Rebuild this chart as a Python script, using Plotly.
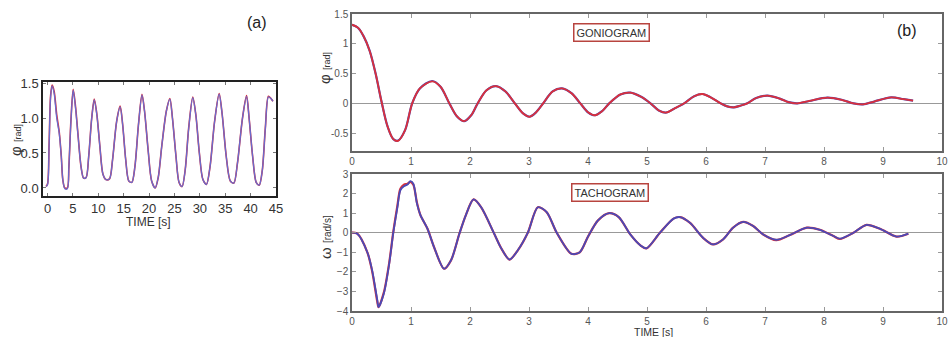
import plotly.graph_objects as go

# ---------------- data ----------------
# panel (a): long recording, angle phi [rad] vs time [s]
a_time = [-0.3, 0.0, 0.3, 0.6, 0.9, 1.3, 1.8, 2.3, 2.7, 3.0, 3.4, 3.9, 4.2, 4.6, 5.05, 5.5, 6.0, 6.6,
          7.1, 7.6, 8.1, 8.7, 9.2, 9.7, 10.3, 10.9, 11.5, 12.2, 12.8, 13.6, 14.3, 14.8, 15.4, 16.0,
          16.6, 17.2, 17.9, 18.6, 19.1, 19.8, 20.5, 21.2, 21.8, 22.5, 23.4, 24.1, 24.6, 25.3, 25.9,
          26.5, 27.1, 27.8, 28.6, 29.2, 29.9, 30.6, 31.3, 32.0, 32.9, 33.8, 34.4, 35.2, 36.0, 36.7,
          37.4, 38.4, 39.2, 39.7, 40.4, 41.1, 41.7, 42.3, 42.9, 43.5, 44.0, 44.4]
a_phi_blue = [0.02, 0.05, 0.6, 1.3, 1.46, 1.35, 1.0, 0.78, 0.45, 0.12, -0.01, -0.01, 0.3, 0.95, 1.40,
              1.15, 0.75, 0.3, 0.14, 0.15, 0.45, 1.0, 1.26, 1.05, 0.6, 0.2, 0.12, 0.13, 0.4, 0.95,
              1.16, 0.9, 0.4, 0.1, 0.08, 0.3, 0.9, 1.33, 1.1, 0.55, 0.1, 0.0, 0.15, 0.6, 1.1, 1.27,
              1.0, 0.45, 0.08, 0.02, 0.25, 0.85, 1.29, 1.05, 0.5, 0.12, 0.05, 0.3, 0.95, 1.34, 1.05,
              0.45, 0.1, 0.07, 0.35, 1.0, 1.31, 1.0, 0.45, 0.08, 0.04, 0.25, 0.85, 1.30, 1.28, 1.24]
a_phi_red = [0.02, 0.06, 0.62, 1.32, 1.47, 1.38, 1.05, 0.80, 0.46, 0.12, 0.0, 0.0, 0.3, 0.96, 1.41,
             1.17, 0.76, 0.3, 0.14, 0.15, 0.45, 1.0, 1.27, 1.06, 0.6, 0.2, 0.12, 0.13, 0.4, 0.95,
             1.17, 0.9, 0.4, 0.1, 0.08, 0.3, 0.9, 1.34, 1.1, 0.55, 0.1, 0.0, 0.15, 0.6, 1.1, 1.28,
             1.0, 0.45, 0.08, 0.02, 0.25, 0.86, 1.30, 1.05, 0.5, 0.12, 0.05, 0.3, 0.95, 1.35, 1.05,
             0.45, 0.1, 0.07, 0.35, 1.0, 1.32, 1.0, 0.45, 0.08, 0.04, 0.25, 0.86, 1.31, 1.28, 1.24]

# panel (b) top: goniogram phi [rad]
g_time = [0.0, 0.1, 0.2, 0.3, 0.4, 0.5, 0.6, 0.7, 0.78, 0.9, 1.02, 1.15, 1.36, 1.5, 1.65, 1.78, 1.9,
          2.02, 2.13, 2.28, 2.44, 2.6, 2.76, 2.9, 3.01, 3.12, 3.24, 3.4, 3.56, 3.72, 3.87, 4.0, 4.12,
          4.24, 4.36, 4.55, 4.72, 4.9, 5.06, 5.2, 5.32, 5.46, 5.63, 5.8, 5.94, 6.08, 6.25, 6.36, 6.47,
          6.58, 6.7, 6.85, 7.04, 7.25, 7.4, 7.55, 7.75, 8.06, 8.3, 8.5, 8.66, 8.85, 9.14, 9.35, 9.51]
g_phi_red = [1.32, 1.27, 1.12, 0.88, 0.5, 0.03, -0.38, -0.6, -0.63, -0.45, 0.0, 0.25, 0.37, 0.28, 0.0,
             -0.22, -0.30, -0.2, 0.0, 0.22, 0.29, 0.2, 0.0, -0.17, -0.225, -0.15, 0.0, 0.2, 0.25, 0.17,
             0.0, -0.15, -0.2, -0.13, 0.0, 0.15, 0.18, 0.11, 0.0, -0.12, -0.157, -0.09, 0.0, 0.12,
             0.157, 0.1, 0.0, -0.05, -0.067, -0.04, 0.0, 0.09, 0.13, 0.08, 0.02, 0.0, 0.04, 0.095,
             0.06, 0.0, -0.017, 0.03, 0.10, 0.07, 0.045]
g_phi_blue = [1.32, 1.27, 1.12, 0.88, 0.5, 0.03, -0.38, -0.6, -0.625, -0.45, 0.0, 0.25, 0.375, 0.28, 0.0,
              -0.22, -0.30, -0.2, 0.0, 0.22, 0.29, 0.2, 0.0, -0.17, -0.225, -0.15, 0.0, 0.2, 0.25, 0.17,
              0.0, -0.15, -0.2, -0.13, 0.0, 0.15, 0.18, 0.11, 0.0, -0.12, -0.157, -0.09, 0.0, 0.12,
              0.157, 0.1, 0.0, -0.05, -0.067, -0.04, 0.0, 0.09, 0.13, 0.08, 0.02, 0.0, 0.04, 0.095,
              0.06, 0.0, -0.017, 0.03, 0.10, 0.07, 0.045]

# panel (b) bottom: tachogram omega [rad/s]
t_time = [0.0, 0.09, 0.26, 0.34, 0.43, 0.45, 0.54, 0.63, 0.70, 0.77, 0.82, 0.88, 0.94, 0.99, 1.04,
          1.10, 1.16, 1.28, 1.39, 1.56, 1.68, 1.82, 1.93, 2.06, 2.19, 2.41, 2.53, 2.67, 2.81, 2.98,
          3.15, 3.30, 3.47, 3.72, 3.86, 4.0, 4.17, 4.36, 4.52, 4.72, 4.89, 4.99, 5.22, 5.45, 5.56,
          5.73, 5.95, 6.12, 6.29, 6.46, 6.63, 6.80, 6.97, 7.19, 7.42, 7.71, 7.93, 8.16, 8.27, 8.50,
          8.72, 8.95, 9.23, 9.43]
t_omega_blue = [0.0, -0.05, -1.0, -1.9, -3.46, -3.8, -3.1, -1.6, 0.0, 1.3, 2.17, 2.37, 2.46, 2.64,
                2.5, 1.5, 0.9, 0.2, -0.73, -1.84, -1.4, -0.05, 0.9, 1.7, 1.3, -0.05, -0.8, -1.37,
                -0.9, 0.0, 1.3, 1.05, 0.0, -1.08, -1.0, -0.2, 0.63, 1.0, 0.8, -0.1, -0.65, -0.8, 0.0,
                0.72, 0.8, 0.5, -0.26, -0.6, -0.34, 0.26, 0.55, 0.34, -0.09, -0.36, -0.12, 0.26, 0.15,
                -0.17, -0.3, 0.0, 0.4, 0.2, -0.2, -0.05]
t_omega_red = [0.0, -0.05, -1.0, -1.95, -3.55, -3.8, -3.05, -1.55, 0.05, 1.4, 2.25, 2.45, 2.5, 2.6,
               2.45, 1.55, 0.9, 0.2, -0.73, -1.84, -1.4, -0.05, 0.9, 1.7, 1.3, -0.05, -0.8, -1.37,
               -0.9, 0.0, 1.3, 1.05, 0.0, -1.08, -1.0, -0.2, 0.63, 1.0, 0.8, -0.1, -0.65, -0.8, 0.0,
               0.72, 0.8, 0.5, -0.26, -0.6, -0.34, 0.26, 0.55, 0.34, -0.09, -0.38, -0.12, 0.26, 0.15,
               -0.17, -0.32, 0.0, 0.4, 0.2, -0.2, -0.05]

a_xticks = [0, 5, 10, 15, 20, 25, 30, 35, 40, 45]
a_yticks = [0.0, 0.5, 1.0, 1.5]
a_ytext = ["0.0", "0.5", "1.0", "1.5"]
b_xticks = [0, 1, 2, 3, 4, 5, 6, 7, 8, 9, 10]
g_yticks = [-0.5, 0, 0.5, 1, 1.5]
g_ytext = ["-0.5", "0", "0.5", "1", "1.5"]
t_yticks = [-4, -3, -2, -1, 0, 1, 2, 3]

# ---------------- figure ----------------
W, H = 948, 337
RED = "#d9303c"
BLUE = "#4a4ab6"
BLUE_A = "#6a6acc"
FONT = "Liberation Sans, Arial, sans-serif"


def px(x):
    return x / W


def py(y):
    return 1 - y / H


fig = go.Figure()
fig.add_trace(go.Scatter(x=a_time, y=a_phi_red, mode="lines", line=dict(color=RED, width=1.6, shape="spline", smoothing=0.8),
                         xaxis="x", yaxis="y", showlegend=False, hoverinfo="skip"))
fig.add_trace(go.Scatter(x=a_time, y=a_phi_blue, mode="lines", line=dict(color=BLUE_A, width=1.3, shape="spline", smoothing=0.8),
                         xaxis="x", yaxis="y", showlegend=False, hoverinfo="skip"))
fig.add_trace(go.Scatter(x=g_time, y=g_phi_blue, mode="lines", line=dict(color=BLUE, width=2.2, shape="spline", smoothing=0.9),
                         xaxis="x2", yaxis="y2", showlegend=False, hoverinfo="skip"))
fig.add_trace(go.Scatter(x=g_time, y=g_phi_red, mode="lines", line=dict(color=RED, width=1.8, shape="spline", smoothing=0.9),
                         xaxis="x2", yaxis="y2", showlegend=False, hoverinfo="skip"))
fig.add_trace(go.Scatter(x=t_time, y=t_omega_red, mode="lines", line=dict(color=RED, width=2.2, shape="spline", smoothing=0.8),
                         xaxis="x3", yaxis="y3", showlegend=False, hoverinfo="skip"))
fig.add_trace(go.Scatter(x=t_time, y=t_omega_blue, mode="lines", line=dict(color=BLUE, width=1.8, shape="spline", smoothing=0.8),
                         xaxis="x3", yaxis="y3", showlegend=False, hoverinfo="skip"))

a_axis_common = dict(showgrid=False, zeroline=False, showline=True, linecolor="#222", linewidth=1.5,
                     mirror="ticks", ticks="inside", ticklen=3, tickcolor="#777", automargin=False,
                     tickfont=dict(family=FONT, size=13, color="#333"))
b_axis_common = dict(showgrid=False, showline=True, linecolor="#666", linewidth=1.5,
                     mirror="ticks", ticks="inside", ticklen=4, tickcolor="#999", automargin=False,
                     tickfont=dict(family=FONT, size=10, color="#555"))

fig.update_layout(
    width=W, height=H,
    margin=dict(l=0, r=0, t=0, b=0, autoexpand=False),
    paper_bgcolor="white", plot_bgcolor="white",
    font=dict(family=FONT),
    xaxis=dict(domain=[px(43), px(276)], range=[-0.9, 45], tickvals=a_xticks, anchor="y", **a_axis_common),
    yaxis=dict(domain=[py(196), py(82)], range=[-0.115, 1.515], tickvals=a_yticks, ticktext=a_ytext,
               anchor="x", **a_axis_common),
    xaxis2=dict(domain=[px(352), px(942)], range=[0, 10], tickvals=b_xticks, anchor="y2", zeroline=False,
                **b_axis_common),
    yaxis2=dict(domain=[py(151), py(14)], range=[-0.8, 1.5], tickvals=g_yticks, ticktext=g_ytext, anchor="x2",
                zeroline=True, zerolinecolor="#999", zerolinewidth=1, **b_axis_common),
    xaxis3=dict(domain=[px(352), px(942)], range=[0, 10], tickvals=b_xticks, anchor="y3", zeroline=False,
                **b_axis_common),
    yaxis3=dict(domain=[py(311), py(174)], range=[-4, 3], tickvals=t_yticks, anchor="x3",
                zeroline=True, zerolinecolor="#999", zerolinewidth=1, **b_axis_common),
)

ann = [
    dict(x=px(257), y=py(22), text="(a)", font=dict(size=16, color="#222")),
    dict(x=px(907), y=py(31), text="(b)", font=dict(size=16, color="#222")),
    dict(x=px(148), y=py(222), text="TIME [s]", font=dict(size=12, color="#333")),
    dict(x=px(653), y=py(332), text="TIME [s]", font=dict(size=10.5, color="#333")),
    dict(x=px(15), y=py(140), text="φ <span style='font-size:9px'>[rad]</span>", textangle=-90,
         font=dict(size=15, color="#333")),
    dict(x=px(325), y=py(68), text="φ <span style='font-size:9px'>[rad]</span>", textangle=-90,
         font=dict(size=15, color="#333")),
    dict(x=px(325), y=py(237), text="ω <span style='font-size:10px'>[rad/s]</span>", textangle=-90,
         font=dict(size=15, color="#333")),
    dict(x=px(611), y=py(33), text="GONIOGRAM", font=dict(size=11, color="#333"), bordercolor="#b8443f",
         borderwidth=1.5, borderpad=2, bgcolor="white"),
    dict(x=px(610), y=py(192), text="TACHOGRAM", font=dict(size=11, color="#333"), bordercolor="#b8443f",
         borderwidth=1.5, borderpad=2, bgcolor="white"),
]
for a in ann:
    a.update(xref="paper", yref="paper", showarrow=False, xanchor="center", yanchor="middle")
    a["font"]["family"] = FONT
fig.update_layout(annotations=ann)

fig.write_html("out.html", config={"displayModeBar": False},
               post_script="document.body.style.margin='0';document.body.style.overflow='hidden';")
